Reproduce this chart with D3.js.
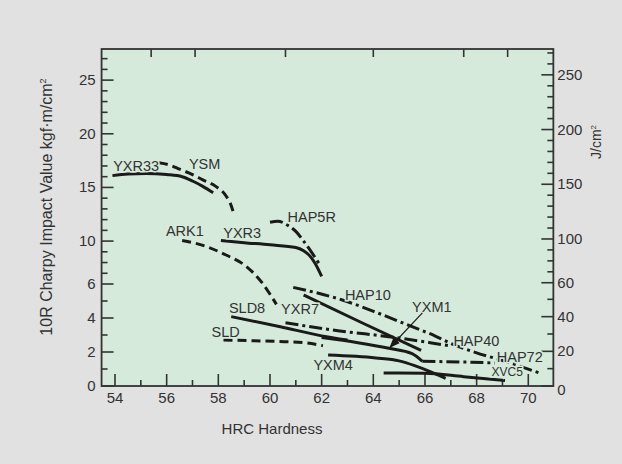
<!DOCTYPE html>
<html>
<head>
<meta charset="utf-8">
<script src="https://cdn.jsdelivr.net/npm/d3@7"></script>
<style>
  body { margin: 0; background: #e1e1e1; }
  svg { display: block; font-family: "Liberation Sans", Arial, sans-serif; }
</style>
</head>
<body>
<svg width="622" height="464"></svg>
<script>
// axis ticks
const hrcMajor = [54, 56, 58, 60, 62, 64, 66, 68, 70];
const hrcMinor = [55, 57, 59, 61, 63, 65, 67, 69];
const topTicks = [55.4, 57.1, 60.6, 64.0, 67.5, 69.2];
const kgfMajor = [0, 2, 4, 6, 10, 15, 20, 25];
const kgfMinor = [1, 3, 5, 7, 8, 9, 11, 12, 13, 14, 16, 17, 18, 19, 21, 22, 23, 24, 26, 27];
const jMajor = [0, 20, 40, 60, 100, 150, 200, 250];
const jMinor = [10, 30, 50, 70, 80, 90, 110, 120, 130, 140, 160, 170, 180, 190, 210, 220, 230, 240, 260, 270];

// curves: [HRC, kgf·m/cm²]
const yxr33 = [[53.9, 16.1], [54.5, 16.25], [55.2, 16.3], [56.0, 16.2], [56.6, 16.0], [57.0, 15.6], [57.4, 15.1], [57.8, 14.5]];
const ysm = [[55.7, 17.3], [56.1, 17.1], [56.5, 16.7], [57.0, 16.2], [57.4, 15.7], [57.9, 15.1], [58.3, 14.2], [58.5, 13.3], [58.6, 12.5]];
const ark1 = [[56.6, 10.05], [57.4, 9.6], [58.3, 8.7], [59.1, 7.6], [59.7, 6.1], [60.0, 5.4], [60.25, 4.8]];
const yxr3 = [[58.1, 10.05], [59.0, 9.85], [60.0, 9.65], [61.0, 9.4], [61.3, 9.1], [61.55, 8.6], [61.75, 7.9], [62.0, 6.7]];
const hap5r = [[60.0, 11.75], [60.3, 11.85], [60.7, 11.45], [61.0, 10.9], [61.3, 10.0], [61.6, 9.0], [61.9, 7.9]];
const hap72 = [[60.9, 5.8], [62.8, 5.06], [64.2, 4.28], [65.5, 3.49], [66.4, 2.94], [67.0, 2.51], [68.0, 1.95], [69.0, 1.5], [69.8, 1.1], [70.45, 0.75]];
const hap10 = [[61.3, 5.35], [63.6, 3.69], [65.85, 2.1]];
const hap40 = [[60.6, 3.72], [62.7, 3.24], [64.6, 2.9], [66.2, 2.55], [67.0, 2.35]];
const sld8 = [[58.5, 4.08], [60.4, 3.49], [62.0, 2.95], [63.0, 2.7]];
const yxm1 = [[62.0, 2.85], [63.4, 2.55], [64.6, 2.22], [65.5, 1.9], [65.9, 1.45]];
const hap40b = [[65.9, 1.45], [66.8, 1.43], [67.8, 1.4], [68.7, 1.35]];
const sld = [[58.2, 2.7], [60.3, 2.62], [61.3, 2.55], [62.05, 2.37]];
const yxm4 = [[62.25, 1.82], [64.1, 1.65], [65.0, 1.48], [65.6, 1.2], [66.2, 0.85], [66.8, 0.45]];
const xvc5 = [[64.4, 0.77], [66.0, 0.75], [67.5, 0.55], [69.1, 0.33]];

const curves = [
  { pts: yxr33, dash: null },
  { pts: ysm, dash: "9,5" },
  { pts: ark1, dash: "9,5" },
  { pts: yxr3, dash: null },
  { pts: hap5r, dash: "13,4,3,4" },
  { pts: hap72, dash: "13,4,3,4" },
  { pts: hap10, dash: null },
  { pts: hap40, dash: "13,4,3,4" },
  { pts: sld8, dash: null },
  { pts: yxm1, dash: null },
  { pts: hap40b, dash: "13,4,3,4" },
  { pts: sld, dash: "9,5" },
  { pts: yxm4, dash: null },
  { pts: xvc5, dash: null }
];

// labels: [name, HRC, kgf] (left edge, baseline)
const labels = [
  ["YXR33", 53.93, 16.5], ["YSM", 56.86, 16.75], ["HAP5R", 60.68, 11.8],
  ["ARK1", 55.97, 10.47], ["YXR3", 58.19, 10.3], ["HAP10", 62.9, 5.06],
  ["YXR7", 60.43, 4.22], ["SLD8", 58.41, 4.28], ["YXM1", 65.5, 4.35],
  ["SLD", 57.74, 2.88], ["HAP40", 67.1, 2.33], ["HAP72", 68.78, 1.44],
  ["YXM4", 61.68, 0.94]
];
const smallLabels = [["XVC5", 68.58, 0.59]];
const arrowFrom = [65.9, 4.3], arrowTo = [64.65, 2.28];

let svg = d3.select("svg");
svg.append("rect").attr("width", 622).attr("height", 464).attr("fill", "#e1e1e1");

let x = d3.scaleLinear().domain([54, 70]).range([115, 528.3]);
let y = d3.scaleLinear().domain([0, 6, 27.9]).range([386, 284, 49]);
let yJ = (v) => y(v / 9.807);

let fL = x(53.48), fR = x(70.97), fT = y(27.9), fB = y(0);
let plotFill = "#d5eadb";

svg.append("rect")
  .attr("x", fL).attr("y", fT)
  .attr("width", fR - fL).attr("height", fB - fT)
  .attr("fill", plotFill);

let ink = "#333";
let axes = svg.append("g").attr("stroke", ink).attr("stroke-width", 1.6);

// bottom
hrcMajor.forEach((d) => axes.append("line").attr("x1", x(d)).attr("x2", x(d)).attr("y1", fB).attr("y2", fB - 12));
hrcMinor.forEach((d) => axes.append("line").attr("x1", x(d)).attr("x2", x(d)).attr("y1", fB).attr("y2", fB - 6));
// top
topTicks.forEach((d) => axes.append("line").attr("x1", x(d)).attr("x2", x(d)).attr("y1", fT).attr("y2", fT + 8));
// left
kgfMajor.forEach((d) => axes.append("line").attr("x1", fL).attr("x2", fL + 12).attr("y1", y(d)).attr("y2", y(d)));
kgfMinor.forEach((d) => axes.append("line").attr("x1", fL).attr("x2", fL + 6).attr("y1", y(d)).attr("y2", y(d)));
// right
jMajor.forEach((d) => axes.append("line").attr("x1", fR).attr("x2", fR - 12).attr("y1", yJ(d)).attr("y2", yJ(d)));
jMinor.forEach((d) => axes.append("line").attr("x1", fR).attr("x2", fR - 6).attr("y1", yJ(d)).attr("y2", yJ(d)));

svg.append("rect")
  .attr("x", fL).attr("y", fT)
  .attr("width", fR - fL).attr("height", fB - fT)
  .attr("fill", "none").attr("stroke", ink).attr("stroke-width", 1.8);

let txt = svg.append("g").attr("fill", ink).style("font-size", "15px");
hrcMajor.forEach((d) => txt.append("text").attr("x", x(d)).attr("y", fB + 17).attr("text-anchor", "middle").text(d));
kgfMajor.forEach((d) => txt.append("text").attr("x", fL - 6).attr("y", y(d) + 5).attr("text-anchor", "end").text(d));
jMajor.forEach((d) => txt.append("text").attr("x", fR + 4).attr("y", yJ(d) + 5 + (d === 0 ? 4 : 0)).text(d));

// axis titles
txt.append("text").attr("x", 272).attr("y", 434).attr("text-anchor", "middle").text("HRC Hardness");
let lt = txt.append("text")
  .attr("transform", "translate(52,207) rotate(-90)")
  .attr("text-anchor", "middle").style("font-size", "16px");
lt.append("tspan").text("10R Charpy Impact Value  kgf·m/cm");
lt.append("tspan").attr("dy", -6).style("font-size", "9px").text("2");
let rt = txt.append("text")
  .attr("transform", "translate(601,142) rotate(-90)")
  .attr("text-anchor", "middle").style("font-size", "14px");
rt.append("tspan").text("J/cm");
rt.append("tspan").attr("dy", -5).style("font-size", "8px").text("2");

// curves
let line = d3.line().x((d) => x(d[0])).y((d) => y(d[1])).curve(d3.curveMonotoneX);
svg.append("g")
  .selectAll("path")
  .data(curves)
  .enter()
  .append("path")
  .attr("d", (d) => line(d.pts))
  .attr("fill", "none")
  .attr("stroke", "#1a1a1a")
  .attr("stroke-width", 3)
  .attr("stroke-dasharray", (d) => d.dash);

// curve labels, with a halo in the plot colour
let lab = svg.append("g").attr("fill", ink).style("font-size", "14.5px")
  .attr("stroke", plotFill).attr("stroke-width", 3).attr("paint-order", "stroke");
labels.forEach((d) => lab.append("text").attr("x", x(d[1])).attr("y", y(d[2])).text(d[0]));
smallLabels.forEach((d) => lab.append("text").attr("x", x(d[1])).attr("y", y(d[2])).style("font-size", "12px").text(d[0]));

// YXM1 arrow
svg.append("defs").append("marker")
  .attr("id", "ah").attr("viewBox", "0 0 10 10").attr("refX", 9).attr("refY", 5)
  .attr("markerWidth", 9).attr("markerHeight", 9).attr("orient", "auto")
  .append("path").attr("d", "M0,1 L10,5 L0,9 Z").attr("fill", "#1a1a1a");
svg.append("line")
  .attr("x1", x(arrowFrom[0])).attr("y1", y(arrowFrom[1]))
  .attr("x2", x(arrowTo[0])).attr("y2", y(arrowTo[1]))
  .attr("stroke", "#1a1a1a").attr("stroke-width", 1.2)
  .attr("marker-end", "url(#ah)");
</script>
</body>
</html>
